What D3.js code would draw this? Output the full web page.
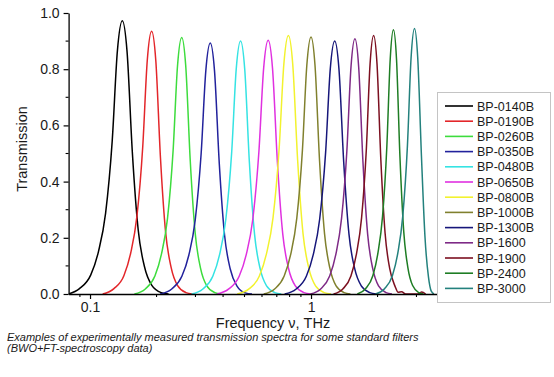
<!DOCTYPE html>
<html>
<head>
<meta charset="utf-8">
<script src="https://cdn.jsdelivr.net/npm/d3@7"></script>
<style>
    body { margin: 0; background: #fff; }
    svg { display: block; font-family: "Liberation Sans", Arial, sans-serif; }
</style>
</head>
<body>
<div id="chart"></div>
<script>
'use strict';

// filter names (legend order)
var filterNames = ['BP-0140B','BP-0190B','BP-0260B','BP-0350B','BP-0480B','BP-0650B','BP-0800B',
                   'BP-1000B','BP-1300B','BP-1600','BP-1900','BP-2400','BP-3000'];

// measured spectra, [frequency THz, transmission]
var bp0140b = [[0.080,0],[0.0896,0.019],[0.1008,0.068],[0.1092,0.151],[0.1176,0.287],[0.126,0.544],[0.133,0.865],
               [0.140,0.972],[0.147,0.865],[0.1554,0.505],[0.1652,0.228],[0.1764,0.097],[0.1904,0.031],[0.210,0.005],[0.2268,0]];
var bp0190b = [[0.1141,0],[0.1283,0.019],[0.1423,0.065],[0.1527,0.145],[0.1630,0.276],[0.1732,0.524],[0.1816,0.832],
               [0.190,0.935],[0.1984,0.832],[0.2083,0.486],[0.2198,0.220],[0.2329,0.094],[0.2491,0.030],[0.2715,0.005],[0.2905,0]];
var bp0260b = [[0.1588,0],[0.1779,0.018],[0.1966,0.064],[0.2105,0.142],[0.2242,0.269],[0.2377,0.511],[0.2489,0.813],
               [0.260,0.913],[0.2710,0.813],[0.2841,0.475],[0.2993,0.215],[0.3164,0.091],[0.3376,0.029],[0.3669,0.005],[0.3918,0]];
var bp0350b = [[0.2077,0],[0.2343,0.018],[0.2604,0.063],[0.2799,0.138],[0.2992,0.263],[0.3183,0.500],[0.3342,0.795],
               [0.350,0.893],[0.3658,0.795],[0.3845,0.464],[0.4062,0.210],[0.4310,0.089],[0.4616,0.029],[0.5040,0.004],[0.5404,0]];
var bp0480b = [[0.2881,0],[0.3241,0.018],[0.3594,0.063],[0.3857,0.140],[0.4117,0.266],[0.4375,0.504],[0.4588,0.801],
               [0.480,0.900],[0.5011,0.801],[0.5262,0.468],[0.5553,0.212],[0.5884,0.090],[0.6292,0.029],[0.6859,0.005],[0.7338,0]];
var bp0650b = [[0.3754,0],[0.4246,0.018],[0.4730,0.063],[0.5092,0.140],[0.5452,0.266],[0.5809,0.506],[0.6105,0.804],
               [0.640,0.903],[0.6694,0.804],[0.7044,0.470],[0.7452,0.212],[0.7917,0.090],[0.8492,0.029],[0.9293,0.005],[0.9974,0]];
var bp0800b = [[0.4634,0],[0.5241,0.018],[0.5838,0.064],[0.6285,0.143],[0.6730,0.271],[0.7171,0.515],[0.7536,0.819],
               [0.790,0.920],[0.8263,0.819],[0.8696,0.478],[0.9198,0.216],[0.9773,0.092],[1.0482,0.029],[1.1472,0.005],[1.2312,0]];
var bp1000b = [[0.6109,0],[0.6844,0.018],[0.7561,0.064],[0.8097,0.142],[0.8623,0.270],[0.9143,0.512],[0.9572,0.814],
               [1.000,0.915],[1.0423,0.814],[1.0926,0.476],[1.1511,0.215],[1.2170,0.092],[1.2985,0.029],[1.4111,0.005],[1.5071,0]];
var bp1300b = [[0.7596,0],[0.8568,0.018],[0.9523,0.063],[1.0235,0.140],[1.0941,0.266],[1.1642,0.504],[1.2221,0.801],
               [1.280,0.900],[1.3376,0.801],[1.4061,0.468],[1.4854,0.212],[1.5762,0.090],[1.6881,0.029],[1.8432,0.005],[1.9763,0]];
var bp1600 = [[0.9937,0],[1.1057,0.018],[1.2145,0.064],[1.2951,0.141],[1.3741,0.268],[1.4523,0.508],[1.5165,0.808],
              [1.580,0.908],[1.6430,0.808],[1.7173,0.472],[1.8037,0.213],[1.9011,0.091],[2.0205,0.029],[2.1850,0.005],[2.3243,0]];
var bp1900 = [[1.2643,0],[1.3926,0.018],[1.5156,0.064],[1.6055,0.143],[1.6934,0.271],[1.7795,0.515],[1.8501,0.819],
              [1.920,0.920],[1.9887,0.819],[2.0698,0.478],[2.1635,0.216],[2.2679,0.092],[2.3954,0.029],[2.48,0.006],
              [2.57,0.008],[2.68,0],[3.05,0],[3.17,0.007],[3.30,0]];
var bp2400 = [[1.6194,0],[1.7658,0.019],[1.9057,0.066],[2.0081,0.146],[2.1072,0.277],[2.2035,0.526],[2.2826,0.837],
              [2.360,0.940],[2.4362,0.837],[2.5252,0.489],[2.6279,0.221],[2.7428,0.094],[2.8825,0.030],[3.0727,0.005],[3.2292,0]];
var bp3000 = [[1.9589,0],[2.1512,0.019],[2.3358,0.066],[2.4708,0.146],[2.6022,0.279],[2.7307,0.529],[2.8362,0.841],
              [2.940,0.945],[3.040,0.840],[3.160,0.490],[3.280,0.200],[3.400,0.060],[3.500,0.010],[3.600,0]];

var spectra = [bp0140b, bp0190b, bp0260b, bp0350b, bp0480b, bp0650b, bp0800b,
               bp1000b, bp1300b, bp1600, bp1900, bp2400, bp3000];

// axis ticks
var xDomain = [0.08, 3.7];
var xMajorTicks = [0.1, 1];
var xMinorTicks = [0.09, 0.2, 0.3, 0.4, 0.5, 0.6, 0.7, 0.8, 0.9, 2, 3];
var yMajorTicks = [0, 0.2, 0.4, 0.6, 0.8, 1.0];
var yMinorTicks = [0.1, 0.3, 0.5, 0.7, 0.9];

var lineColors = ['#000000','#e3262a','#3ddc3d','#22229c','#35e3e3','#e031e0','#f2f22e',
                  '#80802e','#16167a','#7e2a86','#7c1020','#1e7d24','#23817d'];

var width = 554, height = 377;
var plotLeft = 68.6, plotRight = 436.6, plotTop = 13, plotBottom = 294;

var svg = d3.select('#chart').append('svg')
    .attr('width', width)
    .attr('height', height);

var x = d3.scaleLog().domain(xDomain).range([plotLeft, plotRight]);
var y = d3.scaleLinear().domain([0, 1]).range([plotBottom, plotTop]);

//clip curves to the plot area
svg.append('clipPath').attr('id', 'plotClip')
    .append('rect')
    .attr('x', plotLeft).attr('y', 0)
    .attr('width', plotRight - plotLeft).attr('height', plotBottom + 1);

var line = d3.line()
    .x(function(d) { return x(d[0]); })
    .y(function(d) { return y(d[1]); })
    .curve(d3.curveMonotoneX);

svg.append('g')
    .attr('clip-path', 'url(#plotClip)')
    .selectAll('path')
    .data(spectra)
    .enter().append('path')
    .attr('d', line)
    .attr('fill', 'none')
    .attr('stroke', function(d, i) { return lineColors[i]; })
    .attr('stroke-width', 1.5);

//x axis
var xAxis = svg.append('g').attr('transform', 'translate(0,' + plotBottom + ')');
xAxis.call(d3.axisBottom(x).tickValues(xMajorTicks).tickFormat(d3.format('')).tickSize(5).tickSizeOuter(0))
    .call(function(g) { g.select('.domain').attr('stroke-width', 1.3); });
xAxis.selectAll('.tick line').attr('stroke-width', 1.2);
xAxis.selectAll('.tick text')
    .attr('font-size', '14px')
    .attr('fill', '#1a1a1a')
    .attr('font-family', '"Liberation Sans", Arial, sans-serif')
    .attr('y', 8);
xAxis.selectAll('.minor')
    .data(xMinorTicks)
    .enter().append('line')
    .attr('class', 'minor')
    .attr('x1', function(d) { return x(d); })
    .attr('x2', function(d) { return x(d); })
    .attr('y1', 0).attr('y2', 3)
    .attr('stroke', '#000').attr('stroke-width', 1.1);

//y axis
var yAxis = svg.append('g').attr('transform', 'translate(' + plotLeft + ',0)');
yAxis.call(d3.axisLeft(y).tickValues(yMajorTicks).tickFormat(d3.format('.1f')).tickSize(5).tickSizeOuter(0))
    .call(function(g) { g.select('.domain').attr('stroke-width', 1.3); });
yAxis.selectAll('.tick line').attr('stroke-width', 1.2);
yAxis.selectAll('.tick text')
    .attr('font-size', '14px')
    .attr('fill', '#1a1a1a')
    .attr('font-family', '"Liberation Sans", Arial, sans-serif')
    .attr('x', -9);
yAxis.selectAll('.minor')
    .data(yMinorTicks)
    .enter().append('line')
    .attr('class', 'minor')
    .attr('x1', -3).attr('x2', 0)
    .attr('y1', function(d) { return y(d); })
    .attr('y2', function(d) { return y(d); })
    .attr('stroke', '#000').attr('stroke-width', 1.1);

//axis titles
svg.append('text')
    .attr('transform', 'translate(27,149) rotate(-90)')
    .attr('text-anchor', 'middle')
    .attr('font-size', '14.5px')
    .attr('fill', '#1a1a1a')
    .text('Transmission');

svg.append('text')
    .attr('x', 273).attr('y', 328)
    .attr('text-anchor', 'middle')
    .attr('font-size', '14.5px')
    .attr('fill', '#1a1a1a')
    .text('Frequency \u03bd, THz');

//legend
var legend = svg.append('g');
legend.append('rect')
    .attr('x', 437.5).attr('y', 92.5)
    .attr('width', 113).attr('height', 210)
    .attr('fill', '#fff')
    .attr('stroke', '#c4c4c4');

var items = legend.selectAll('.item')
    .data(filterNames)
    .enter().append('g')
    .attr('class', 'item')
    .attr('transform', function(d, i) { return 'translate(0,' + (106 + i * 15.2) + ')'; });

items.append('line')
    .attr('x1', 445).attr('x2', 473)
    .attr('stroke', function(d, i) { return lineColors[i]; })
    .attr('stroke-width', 1.6);

items.append('text')
    .attr('x', 477).attr('dy', '0.36em')
    .attr('font-size', '12.5px')
    .attr('fill', '#1a1a1a')
    .text(function(d) { return d; });

//caption
var caption = svg.append('text')
    .attr('font-size', '11px')
    .attr('font-style', 'italic')
    .attr('fill', '#1a1a1a');
caption.append('tspan').attr('x', 7).attr('y', 341)
    .text('Examples of experimentally measured transmission spectra for some standard filters');
caption.append('tspan').attr('x', 7).attr('y', 351.5)
    .text('(BWO+FT-spectroscopy data)');
</script>
</body>
</html>
